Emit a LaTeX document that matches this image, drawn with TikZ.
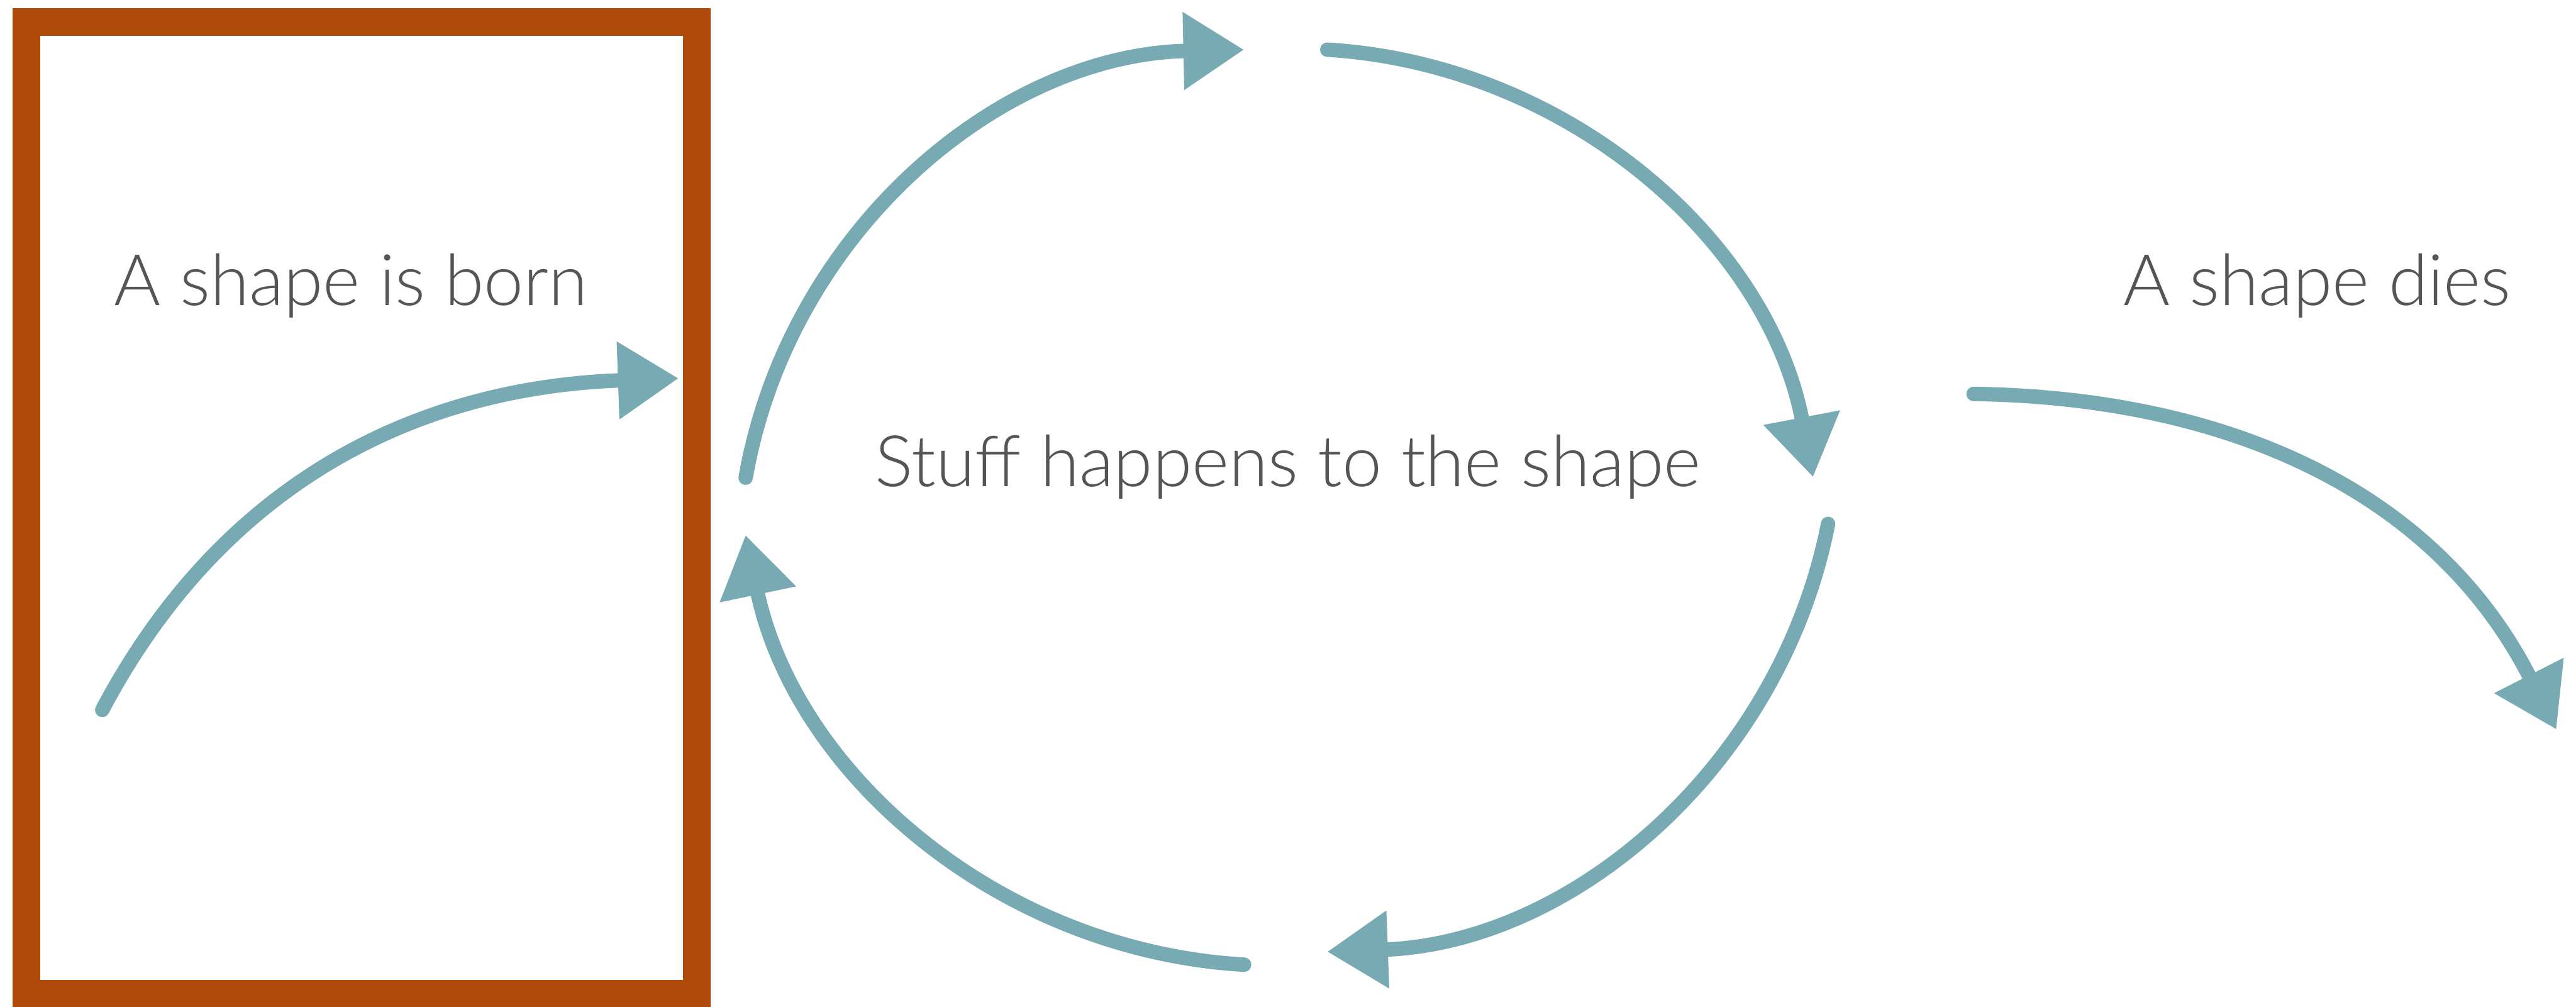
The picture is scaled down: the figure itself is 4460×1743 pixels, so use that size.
\documentclass[tikz,border=0pt]{standalone}
\usepackage{fontspec}
\setmainfont{Lato Light}
\usetikzlibrary{arrows.meta}
\definecolor{boxorange}{RGB}{176,74,10}
\definecolor{arrowteal}{RGB}{120,170,180}
\definecolor{txtgray}{RGB}{85,85,85}
\begin{document}
\begin{tikzpicture}[x=0.01cm,y=0.01cm,
  arr/.style={draw=arrowteal,line width=0.25cm,line cap=round,
    -{Triangle[length=1.05cm,width=1.28cm]},fill=none},
  lbl/.style={inner sep=0pt,anchor=base,text=txtgray,font=\fontsize{35}{42}\selectfont},
  birthbox/.style={draw=boxorange,line width=0.48cm,line join=miter}]
\useasboundingbox (0,0) rectangle (4460,1743);
% box
\draw[birthbox] (46,23) rectangle (1206,1705);
% texts
\node[lbl] (born) at (608,1214) {A shape is born};
\node[lbl] (stuff) at (2230,901) {Stuff happens to the shape};
\node[lbl] (dies) at (4012,1214) {A shape dies};
% birth arrow
\coordinate (bs) at (177,514);
\coordinate (be) at (1175,1088);
\draw[arr] (bs) .. controls (383,903) and (715,1072) .. (be);
% cycle
\coordinate (a1s) at (1291,916);
\coordinate (a2s) at (2298,1657);
\coordinate (a3s) at (3165,836);
\coordinate (a4s) at (2154,73);
\draw[arr] (a1s) arc[start angle=170.1,end angle=91.2,radius=895];
\draw[arr] (a2s) arc[start angle=86.5,end angle=10.8,radius=913];
\draw[arr] (a3s) arc[start angle=-11.1,end angle=-87.9,radius=918];
\draw[arr] (a4s) arc[start angle=-93.3,end angle=-168.2,radius=937];
% death arrow
\coordinate (ds) at (3417,1061);
\coordinate (de) at (4426,480);
\draw[arr] (ds) .. controls (3847,1055) and (4213,899) .. (de);
\end{tikzpicture}
\end{document}
